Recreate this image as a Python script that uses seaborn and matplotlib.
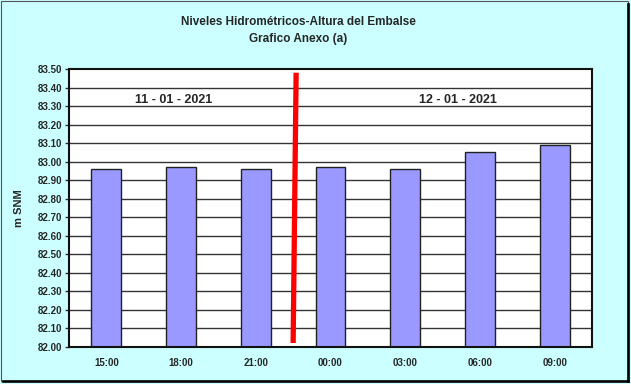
import matplotlib
matplotlib.use("Agg")
import matplotlib.pyplot as plt
import seaborn as sns
import pandas as pd
from matplotlib.patches import Rectangle

hours = ["15:00", "18:00", "21:00", "00:00", "03:00", "06:00", "09:00"]
levels = [82.96, 82.97, 82.96, 82.97, 82.96, 83.05, 83.09]
date_labels = ["11 - 01 - 2021", "12 - 01 - 2021"]
date_label_x = [0.9, 4.7]
separator_x = [2.5, 2.54]
separator_y = [82.02, 83.48]
y_ticks = [82.0 + 0.1 * i for i in range(16)]

sns.set_theme(style="white")
plt.rcParams['font.family'] = ['Liberation Sans', 'DejaVu Sans']

df = pd.DataFrame({"hora": hours, "nivel": levels})

fig = plt.figure(figsize=(6.31, 3.84), dpi=100)
fig.patch.set_facecolor("#ccffff")
ax = fig.add_axes([69/631, 1-346.7/384, (592-69)/631, (346.7-69)/384])
ax.set_facecolor("white")

sns.barplot(data=df, x="hora", y="nivel", color="#9999ff", width=0.4,
            edgecolor="#222222", linewidth=1, saturation=1, ax=ax, zorder=3)

ax.set_ylim(82.0, 83.5)
ax.set_xlim(-0.5, len(hours) - 0.5)
ax.set_yticks(y_ticks)
ax.set_yticklabels([f"{v:.2f}" for v in y_ticks], fontsize=7, fontweight="bold")
for v in y_ticks[1:-1]:
    ax.axhline(v, color="#333333", lw=1, zorder=1)

ax.set_xticks(range(len(hours)))
ax.set_xticklabels(hours, fontsize=7, fontweight="bold")
ax.tick_params(axis="x", length=0, pad=8)
ax.set_xticks([i + 0.5 for i in range(len(hours) - 1)], minor=True)
ax.tick_params(axis="x", which="minor", length=3, width=1, color="#555555", direction="out")
ax.tick_params(axis="y", length=3, width=1, color="#333333", direction="out", pad=2, left=True)
ax.set_xlabel("")
ax.set_ylabel("m SNM", fontsize=8, fontweight="bold", labelpad=10)
for s in ax.spines.values():
    s.set_color("#111111")
    s.set_linewidth(1.5)
    s.set_zorder(5)

ax.plot(separator_x, separator_y, color="red", lw=3.8, zorder=6, solid_capstyle="butt")

for t, xp in zip(date_labels, date_label_x):
    ax.text(xp, 83.33, t, ha="center", va="center", fontsize=9, fontweight="bold", zorder=7)

fig.text(298/631, 1-22/384, "Niveles Hidrométricos-Altura del Embalse", ha="center", va="center",
         fontsize=8.5, fontweight="bold")
fig.text(298/631, 1-39/384, "Grafico Anexo (a)", ha="center", va="center",
         fontsize=8.5, fontweight="bold")

fig.patches.append(Rectangle((0.5/631, 1-380.5/384), 627.5/631, 380/384, transform=fig.transFigure,
                             fill=False, edgecolor="#555555", lw=0.8))
fig.patches.append(Rectangle((3/631, 1-381.5/384), 626/631, 0.001, transform=fig.transFigure,
                             fill=True, facecolor="black", edgecolor="black", lw=1.2))
fig.patches.append(Rectangle((628/631, 1-381.5/384), 0.0015, 378/384, transform=fig.transFigure,
                             fill=True, facecolor="black", edgecolor="black", lw=1.2))

fig.savefig("out.png", dpi=100, facecolor=fig.get_facecolor())
